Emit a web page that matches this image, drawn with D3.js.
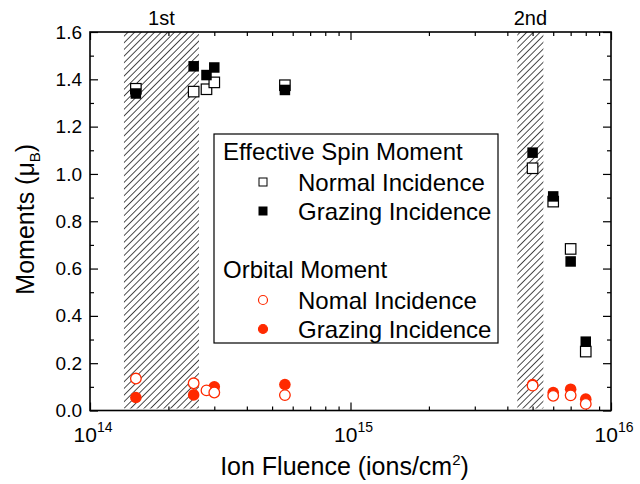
<!DOCTYPE html>
<meta charset="utf-8">
<script src="https://d3js.org/d3.v7.min.js"></script>
<style>
  body { margin: 0; background: #fff; }
  text { font-family: "Liberation Sans", Arial, sans-serif; fill: #000; }
</style>
<div id="chart"></div>
<script>

// fluence values (ions/cm^2) shared by all four series
var fluence = [1.5e14, 2.5e14, 2.8e14, 3.0e14, 5.6e14, 5e15, 6e15, 7e15, 8e15];

var spinNormal  = [1.36, 1.348, 1.358, 1.387, 1.375, 1.024, 0.883, 0.683, 0.249];
var spinGrazing = [1.34, 1.455, 1.418, 1.45, 1.355, 1.09, 0.905, 0.63, 0.291];
var orbNormal   = [0.135, 0.115, 0.085, 0.076, 0.065, 0.105, 0.062, 0.064, 0.028];
var orbGrazing  = [0.055, 0.066, null, 0.10, 0.11, 0.11, 0.076, 0.09, 0.048];

// hatched annealing windows
var hatchFrom  = [1.35e14, 4.37e15];
var hatchTo    = [2.62e14, 5.5e15];
var hatchNames = ["1st", "2nd"];

var xTickExp = [14, 15, 16];
var yTicks = [0, 0.2, 0.4, 0.6, 0.8, 1.0, 1.2, 1.4, 1.6];

var red = "#ff2a00";

var width = 640, height = 484;
var margin = {top: 32, right: 29, bottom: 73.5, left: 90};

var svg = d3.select("#chart")
  .append("svg")
    .attr("width", width)
    .attr("height", height);

var x = d3.scaleLog()
  .domain([1e14, 1e16])
  .range([margin.left, width - margin.right]);

var y = d3.scaleLinear()
  .domain([0, 1.6])
  .range([height - margin.bottom, margin.top]);

// hatch pattern
var defs = svg.append("defs");
var pat = defs.append("pattern")
  .attr("id", "hatch")
  .attr("patternUnits", "userSpaceOnUse")
  .attr("width", 4.7)
  .attr("height", 4.7)
  .attr("patternTransform", "rotate(45)");
pat.append("line")
  .attr("x1", 0).attr("y1", 0)
  .attr("x2", 0).attr("y2", 4.7)
  .attr("stroke", "#000")
  .attr("stroke-width", 1.4);

var hatch = d3.range(hatchFrom.length).map(function(i) {
  return {a: hatchFrom[i], b: hatchTo[i], name: hatchNames[i]};
});

svg.selectAll("rect.hatch")
  .data(hatch)
  .enter()
  .append("rect")
    .attr("class", "hatch")
    .attr("x", function(d) { return x(d.a); })
    .attr("y", y(1.6))
    .attr("width", function(d) { return x(d.b) - x(d.a); })
    .attr("height", y(0) - y(1.6) - 2)
    .attr("fill", "url(#hatch)");

svg.selectAll("text.hname")
  .data(hatch)
  .enter()
  .append("text")
    .attr("class", "hname")
    .attr("x", function(d) { return (x(d.a) + x(d.b)) / 2; })
    .attr("y", 25)
    .attr("text-anchor", "middle")
    .style("font-size", "20px")
    .text(function(d) { return d.name; });

// minor ticks for the log axis
var minorX = [];
[1e14, 1e15].forEach(function(dec) {
  for (var k = 2; k <= 9; k++) minorX.push(k * dec);
});
var majorX = xTickExp.map(function(e) { return Math.pow(10, e); });

var minorY = d3.range(0.1, 1.6, 0.2);

function addXAxis(gen, yPos) {
  svg.append("g")
    .attr("transform", "translate(0," + yPos + ")")
    .call(gen(x).tickValues(majorX).tickSize(-8).tickFormat(""))
    .call(function(g) { g.select(".domain").remove(); });
  svg.append("g")
    .attr("transform", "translate(0," + yPos + ")")
    .call(gen(x).tickValues(minorX).tickSize(-4).tickFormat(""))
    .call(function(g) { g.select(".domain").remove(); });
}
addXAxis(d3.axisBottom, y(0));
addXAxis(d3.axisTop, y(1.6));

function addYAxis(gen, xPos, labels) {
  var g = svg.append("g")
    .attr("transform", "translate(" + xPos + ",0)")
    .call(gen(y).tickValues(yTicks).tickSize(-8).tickPadding(8)
      .tickFormat(labels ? d3.format(".1f") : ""));
  g.select(".domain").remove();
  g.selectAll("text").style("font-size", "19px").attr("fill", "#000");
  svg.append("g")
    .attr("transform", "translate(" + xPos + ",0)")
    .call(gen(y).tickValues(minorY).tickSize(-4).tickFormat(""))
    .call(function(g) { g.select(".domain").remove(); });
}
addYAxis(d3.axisLeft, x(1e14), true);
addYAxis(d3.axisRight, x(1e16), false);

svg.selectAll(".tick line").attr("stroke", "#000").attr("stroke-width", 1.2);

// frame
svg.append("rect")
  .attr("x", x(1e14))
  .attr("y", y(1.6))
  .attr("width", x(1e16) - x(1e14))
  .attr("height", y(0) - y(1.6))
  .attr("fill", "none")
  .attr("stroke", "#000")
  .attr("stroke-width", 1.6);

// x tick labels with superscripts
var xl = svg.selectAll("text.xl")
  .data(xTickExp)
  .enter()
  .append("text")
    .attr("class", "xl")
    .attr("x", function(d) { return x(Math.pow(10, d)) + 3; })
    .attr("y", y(0) + 31)
    .attr("text-anchor", "middle")
    .style("font-size", "21px");
xl.append("tspan").text("10");
xl.append("tspan")
  .attr("dy", -10)
  .style("font-size", "14px")
  .text(function(d) { return d; });

// axis titles
var xt = svg.append("text")
  .attr("x", (x(1e14) + x(1e16)) / 2 - 6)
  .attr("y", 475)
  .attr("text-anchor", "middle")
  .style("font-size", "25px");
xt.append("tspan").text("Ion Fluence (ions/cm");
xt.append("tspan").attr("dy", -10).style("font-size", "15px").text("2");
xt.append("tspan").attr("dy", 10).text(")");

var yt = svg.append("text")
  .attr("transform", "translate(34," + (y(0.8) - 2) + ") rotate(-90)")
  .attr("text-anchor", "middle")
  .style("font-size", "25px");
yt.append("tspan").text("Moments (\u03bc");
yt.append("tspan").attr("dy", 6).style("font-size", "15px").text("B");
yt.append("tspan").attr("dy", -6).text(")");

// data
function pts(vals) {
  return fluence.map(function(f, i) { return {f: f, v: vals[i]}; })
    .filter(function(d) { return d.v != null; });
}

var s = 10.5;
svg.append("g").selectAll("rect")
  .data(pts(spinNormal))
  .enter().append("rect")
    .attr("x", function(d) { return x(d.f) - s / 2; })
    .attr("y", function(d) { return y(d.v) - s / 2; })
    .attr("width", s).attr("height", s)
    .attr("fill", "#fff").attr("stroke", "#000").attr("stroke-width", 1.2);

svg.append("g").selectAll("rect")
  .data(pts(spinGrazing))
  .enter().append("rect")
    .attr("x", function(d) { return x(d.f) - s / 2; })
    .attr("y", function(d) { return y(d.v) - s / 2; })
    .attr("width", s).attr("height", s)
    .attr("fill", "#000");

svg.append("g").selectAll("circle")
  .data(pts(orbGrazing))
  .enter().append("circle")
    .attr("cx", function(d) { return x(d.f); })
    .attr("cy", function(d) { return y(d.v); })
    .attr("r", 5.8)
    .attr("fill", red);

svg.append("g").selectAll("circle")
  .data(pts(orbNormal))
  .enter().append("circle")
    .attr("cx", function(d) { return x(d.f); })
    .attr("cy", function(d) { return y(d.v); })
    .attr("r", 5.3)
    .attr("fill", "#fff").attr("stroke", red).attr("stroke-width", 1.3);

// legend
var lg = svg.append("g").attr("transform", "translate(214,134)");
lg.append("rect")
  .attr("width", 284).attr("height", 209)
  .attr("fill", "#fff").attr("stroke", "#000").attr("stroke-width", 1.2);

var legendHeads = ["Effective Spin Moment", "Orbital Moment"];
var legendRows = [
  {label: "Normal Incidence", kind: "sqOpen", y: 48},
  {label: "Grazing Incidence", kind: "sqFill", y: 77},
  {label: "Nomal Incidence", kind: "ciOpen", y: 166},
  {label: "Grazing Incidence", kind: "ciFill", y: 195}
];

lg.selectAll("text.head")
  .data(legendHeads)
  .enter().append("text")
    .attr("x", 9)
    .attr("y", function(d, i) { return i ? 144 : 26; })
    .style("font-size", "24px")
    .text(function(d) { return d; });

legendRows.forEach(function(r) {
  if (r.kind === "sqOpen" || r.kind === "sqFill") {
    lg.append("rect")
      .attr("x", 45).attr("y", r.y - 4).attr("width", 8).attr("height", 8)
      .attr("fill", r.kind === "sqFill" ? "#000" : "#fff")
      .attr("stroke", "#000").attr("stroke-width", 1);
  } else {
    lg.append("circle")
      .attr("cx", 49).attr("cy", r.y).attr("r", 4.5)
      .attr("fill", r.kind === "ciFill" ? red : "#fff")
      .attr("stroke", red).attr("stroke-width", 1.2);
  }
  lg.append("text")
    .attr("x", 84).attr("y", r.y + 9)
    .style("font-size", "24px")
    .text(r.label);
});

</script>
